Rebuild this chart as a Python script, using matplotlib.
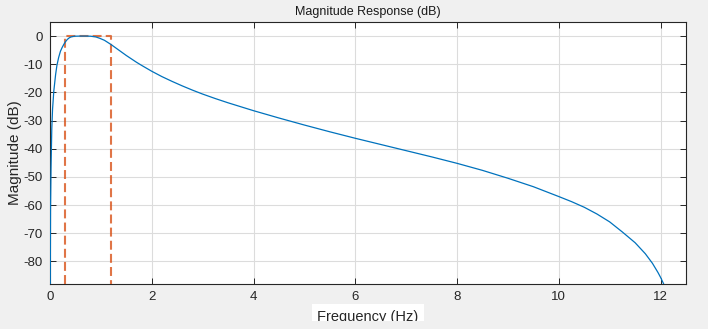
import numpy as np
import matplotlib
matplotlib.use("Agg")
import matplotlib.pyplot as plt
from matplotlib.transforms import Bbox

plt.rcParams['font.family'] = ['Liberation Sans', 'DejaVu Sans']
plt.rcParams['axes.unicode_minus'] = False

# Magnitude response of the band-pass filter, sampled along the frequency axis
freq_hz = [0.0, 0.01, 0.02, 0.035, 0.05, 0.075, 0.11, 0.135, 0.17, 0.205,
           0.24, 0.27, 0.30, 0.34, 0.38, 0.415, 0.48, 0.6, 0.7, 0.8,
           0.9, 0.98, 1.07, 1.2, 1.3, 1.4, 1.5, 1.6, 1.7, 1.8,
           2.0, 2.2, 2.4, 2.6, 2.8, 3.0, 3.25, 3.5, 3.75, 4.0,
           4.5, 5.0, 5.5, 6.0, 6.5, 7.0, 7.5, 8.0, 8.5, 9.0,
           9.5, 10.0, 10.25, 10.5, 10.75, 11.0, 11.25, 11.5, 11.7, 11.84,
           11.95, 12.0, 12.06, 12.1]
mag_db = [-120.0, -62.0, -47.0, -33.0, -26.0, -19.5, -13.7, -10.5, -7.6, -5.4,
          -4.0, -3.0, -2.1, -1.2, -0.6, -0.3, -0.05, 0.0, 0.0, -0.05,
          -0.3, -0.8, -1.5, -3.0, -4.3, -5.6, -6.9, -8.1, -9.3, -10.4,
          -12.5, -14.4, -16.1, -17.7, -19.2, -20.6, -22.2, -23.7, -25.1, -26.5,
          -29.1, -31.6, -34.0, -36.3, -38.5, -40.7, -42.9, -45.2, -47.7, -50.5,
          -53.5, -57.0, -58.8, -60.8, -63.2, -66.0, -69.6, -73.4, -77.3, -80.7,
          -84.0, -85.7, -88.0, -95.0]

# Passband specification mask
mask_f = [0.3, 0.3, 1.2, 1.2]
mask_db = [-88.1, 0.0, 0.0, -88.1]

x_ticks = [0, 2, 4, 6, 8, 10, 12]
y_ticks = [0, -10, -20, -30, -40, -50, -60, -70, -80]

fig = plt.figure(figsize=(7.08, 3.29), dpi=100, facecolor='#F0F0F0')
ax = fig.add_axes([50 / 708, 45 / 329, 636 / 708, 262 / 329])
ax.set_facecolor('white')

ax.plot(mask_f, mask_db, color='#D95319', alpha=0.8, lw=1.5,
        linestyle=(0, (4.3, 2.0)), zorder=3)
ax.plot(freq_hz, mag_db, color='#0072BD', lw=0.9, zorder=4)

ax.set_xlim(0, 12.5)
ax.set_ylim(-88.06, 5.0)
ax.set_xticks(x_ticks)
ax.set_yticks(y_ticks)
ax.grid(True, color='#DCDCDC', lw=0.8)
ax.set_axisbelow(True)

ax.tick_params(direction='in', length=4, width=0.7, colors='#262626',
               labelsize=9.5, top=True, right=True, pad=5)
for side in ax.spines.values():
    side.set_color('#262626')
    side.set_linewidth(0.8)

ax.set_title('Magnitude Response (dB)', fontsize=9, color='#1a1a1a', pad=5)
ax.set_ylabel('Magnitude (dB)', fontsize=11, color='#262626', labelpad=1)
xl = ax.set_xlabel('Frequency (Hz)', fontsize=10.5, color='#262626', labelpad=5,
                   bbox=dict(facecolor='white', edgecolor='none', pad=4))
# the label strip is cut off a few pixels above the bottom edge
xl.set_clip_box(Bbox.from_extents(0, 8, 708, 329))
xl.set_clip_on(True)

fig.savefig('out.png', dpi=100, facecolor=fig.get_facecolor())
